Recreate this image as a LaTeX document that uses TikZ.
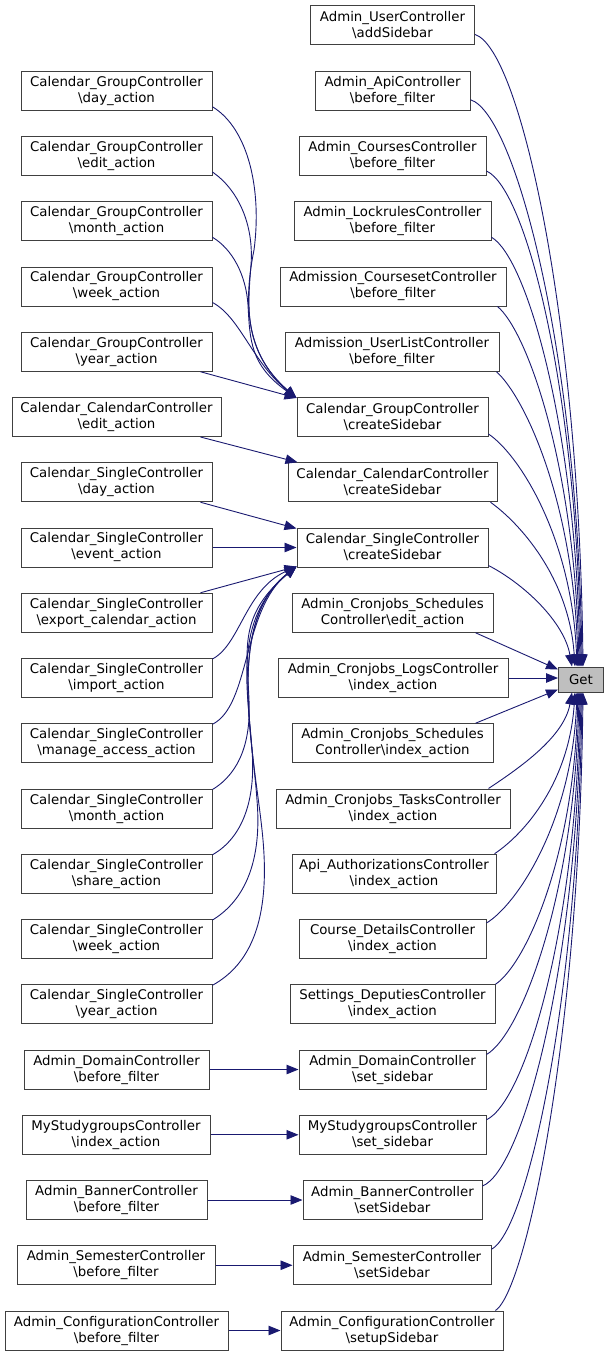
\documentclass[tikz,border=0pt]{standalone}
\usepackage{fontspec}
\setmainfont{DejaVu Sans}
\usetikzlibrary{arrows.meta,calc}
\definecolor{edgecol}{HTML}{191970}
\definecolor{boxline}{HTML}{404040}
\definecolor{getfill}{HTML}{BFBFBF}
\begin{document}
\begin{tikzpicture}[x=1pt,y=-1pt,
  box/.style={draw=boxline, line width=1pt, fill=white, minimum height=39pt, inner sep=0pt, align=center, font=\fontsize{13.33}{16}\selectfont},
  edge/.style={draw=edgecol, line width=0.9pt, -{Triangle[length=12pt,width=9.5pt]}, edgecol}]
\useasboundingbox (0,0) rectangle (609,1359);
% Get
\node[box, fill=getfill, minimum width=45pt, minimum height=25pt] (get) at (581,679.5) {Get};
% right column
\node[box, minimum width=164pt] (r0) at (392.5,25.5) {Admin\_UserController\\\textbackslash addSidebar};
\node[box, minimum width=155pt] (r1) at (392.5,90.75) {Admin\_ApiController\\\textbackslash before\_filter};
\node[box, minimum width=187pt] (r2) at (392.5,156) {Admin\_CoursesController\\\textbackslash before\_filter};
\node[box, minimum width=197pt] (r3) at (392.5,221.25) {Admin\_LockrulesController\\\textbackslash before\_filter};
\node[box, minimum width=226pt] (r4) at (393,286.5) {Admission\_CoursesetController\\\textbackslash before\_filter};
\node[box, minimum width=214pt] (r5) at (392,351.75) {Admission\_UserListController\\\textbackslash before\_filter};
\node[box, minimum width=191pt] (r6) at (392.5,417) {Calendar\_GroupController\\\textbackslash createSidebar};
\node[box, minimum width=209pt] (r7) at (392.5,482.25) {Calendar\_CalendarController\\\textbackslash createSidebar};
\node[box, minimum width=191pt] (r8) at (392.5,547.5) {Calendar\_SingleController\\\textbackslash createSidebar};
\node[box, minimum width=201pt] (r9) at (392.5,612.75) {Admin\_Cronjobs\_Schedules\\Controller\textbackslash edit\_action};
\node[box, minimum width=230pt] (r10) at (393,678) {Admin\_Cronjobs\_LogsController\\\textbackslash index\_action};
\node[box, minimum width=201pt] (r11) at (392.5,743.25) {Admin\_Cronjobs\_Schedules\\Controller\textbackslash index\_action};
\node[box, minimum width=234pt] (r12) at (393,808.5) {Admin\_Cronjobs\_TasksController\\\textbackslash index\_action};
\node[box, minimum width=204pt] (r13) at (394,873.75) {Api\_AuthorizationsController\\\textbackslash index\_action};
\node[box, minimum width=187pt] (r14) at (392.5,939) {Course\_DetailsController\\\textbackslash index\_action};
\node[box, minimum width=205pt] (r15) at (392.5,1004.25) {Settings\_DeputiesController\\\textbackslash index\_action};
\node[box, minimum width=187pt] (r16) at (392.5,1069.5) {Admin\_DomainController\\\textbackslash set\_sidebar};
\node[box, minimum width=187pt] (r17) at (392.5,1134.75) {MyStudygroupsController\\\textbackslash set\_sidebar};
\node[box, minimum width=179pt] (r18) at (392.5,1200) {Admin\_BannerController\\\textbackslash setSidebar};
\node[box, minimum width=198pt] (r19) at (392,1265.25) {Admin\_SemesterController\\\textbackslash setSidebar};
\node[box, minimum width=222pt] (r20) at (392,1330.5) {Admin\_ConfigurationController\\\textbackslash setupSidebar};
% left column
\node[box, minimum width=191pt] (l1) at (116.5,90.75) {Calendar\_GroupController\\\textbackslash day\_action};
\node[box, minimum width=191pt] (l2) at (116.5,156) {Calendar\_GroupController\\\textbackslash edit\_action};
\node[box, minimum width=191pt] (l3) at (116.5,221.25) {Calendar\_GroupController\\\textbackslash month\_action};
\node[box, minimum width=191pt] (l4) at (116.5,286.5) {Calendar\_GroupController\\\textbackslash week\_action};
\node[box, minimum width=191pt] (l5) at (116.5,351.75) {Calendar\_GroupController\\\textbackslash year\_action};
\node[box, minimum width=209pt] (l6) at (116.5,417) {Calendar\_CalendarController\\\textbackslash edit\_action};
\node[box, minimum width=191pt] (l7) at (116.5,482.25) {Calendar\_SingleController\\\textbackslash day\_action};
\node[box, minimum width=191pt] (l8) at (116.5,547.5) {Calendar\_SingleController\\\textbackslash event\_action};
\node[box, minimum width=191pt] (l9) at (116.5,612.75) {Calendar\_SingleController\\\textbackslash export\_calendar\_action};
\node[box, minimum width=191pt] (l10) at (116.5,678) {Calendar\_SingleController\\\textbackslash import\_action};
\node[box, minimum width=191pt] (l11) at (116.5,743.25) {Calendar\_SingleController\\\textbackslash manage\_access\_action};
\node[box, minimum width=191pt] (l12) at (116.5,808.5) {Calendar\_SingleController\\\textbackslash month\_action};
\node[box, minimum width=191pt] (l13) at (116.5,873.75) {Calendar\_SingleController\\\textbackslash share\_action};
\node[box, minimum width=191pt] (l14) at (116.5,939) {Calendar\_SingleController\\\textbackslash week\_action};
\node[box, minimum width=191pt] (l15) at (116.5,1004.25) {Calendar\_SingleController\\\textbackslash year\_action};
\node[box, minimum width=185pt] (l16) at (116.5,1069.5) {Admin\_DomainController\\\textbackslash before\_filter};
\node[box, minimum width=188pt] (l17) at (116,1134.75) {MyStudygroupsController\\\textbackslash index\_action};
\node[box, minimum width=181pt] (l18) at (116.5,1200) {Admin\_BannerController\\\textbackslash before\_filter};
\node[box, minimum width=198pt] (l19) at (116,1265.25) {Admin\_SemesterController\\\textbackslash before\_filter};
\node[box, minimum width=223pt] (l20) at (116.5,1330.5) {Admin\_ConfigurationController\\\textbackslash before\_filter};
% edges to Get (top)
\draw[edge] ($(r0.east)+(0,9)$) .. controls +(45,14) and +(-4,-350) .. ($(get.north)+(2,0)$);
\draw[edge] ($(r1.east)+(0,9)$) .. controls +(45,14) and +(-4,-312) .. ($(get.north)+(1,0)$);
\draw[edge] ($(r2.east)+(0,15)$) .. controls +(40,18) and +(-4,-276) .. ($(get.north)+(0,0)$);
\draw[edge] ($(r3.east)+(0,16)$) .. controls +(35,20) and +(-4,-240) .. ($(get.north)+(-1,0)$);
\draw[edge] ($(r4.south east)+(-9,0)$) .. controls +(30,25) and +(-4,-200) .. ($(get.north)+(-2,0)$);
\draw[edge] ($(r5.south east)+(-3,0)$) .. controls +(28,25) and +(-4,-165) .. ($(get.north)+(-3,0)$);
\draw[edge] ($(r6.south east)+(0,-3)$) .. controls +(30,20) and +(-5,-130) .. ($(get.north)+(-4,0)$);
\draw[edge] ($(r7.south east)+(-7,0)$) .. controls +(28,20) and +(-6,-90) .. ($(get.north)+(-6,0)$);
\draw[edge] ($(r8.south east)+(0,-2)$) .. controls +(35,18) and +(-8,-45) .. ($(get.north)+(-9,0)$);
\draw[edge] ($(r9.south east)+(-18,0)$) -- ($(get.north west)+(0,3)$);
\draw[edge] (r10.east) -- (r10.east -| get.west);
\draw[edge] ($(r11.north east)+(-18,0)$) -- ($(get.south west)+(0,-3)$);
% edges to Get (bottom)
\draw[edge] ($(r12.north east)+(-22,0)$) .. controls +(30,-20) and +(-8,45) .. ($(get.south)+(-9,0)$);
\draw[edge] ($(r13.north east)+(-2,0)$) .. controls +(30,-20) and +(-6,90) .. ($(get.south)+(-6,0)$);
\draw[edge] ($(r14.east)+(0,-16)$) .. controls +(30,-18) and +(-5,130) .. ($(get.south)+(-4,0)$);
\draw[edge] (r15.north east) .. controls +(30,-20) and +(-4,165) .. ($(get.south)+(-3,0)$);
\draw[edge] ($(r16.east)+(0,-15)$) .. controls +(35,-20) and +(-4,200) .. ($(get.south)+(-2,0)$);
\draw[edge] ($(r17.east)+(0,-15)$) .. controls +(38,-18) and +(-4,240) .. ($(get.south)+(-1,0)$);
\draw[edge] ($(r18.east)+(0,-14)$) .. controls +(40,-16) and +(-4,276) .. ($(get.south)+(0,0)$);
\draw[edge] ($(r19.north east)+(0,4)$) .. controls +(35,-18) and +(-4,312) .. ($(get.south)+(1,0)$);
\draw[edge] ($(r20.north east)+(-8,0)$) .. controls +(30,-20) and +(-4,350) .. ($(get.south)+(2,0)$);
% group controller edges
\draw[edge] ($(l1.south east)+(0,-4)$) .. controls +(36,22) and (262,190) .. (254,250) .. controls (246,290) and (240,350) .. ($(r6.north west)+(0,1)$);
\draw[edge] ($(l2.south east)+(0,-4)$) .. controls +(26,18) and (254,225) .. (251,265) .. controls (248,305) and (242,350) .. ($(r6.north west)+(0,1)$);
\draw[edge] ($(l3.south east)+(0,-4)$) .. controls +(20,12) and (246,275) .. (248,305) .. controls (250,340) and (250,365) .. ($(r6.north west)+(0,1)$);
\draw[edge] ($(l4.south east)+(0,-4)$) .. controls +(28,15) and (252,362) .. ($(r6.north west)+(0,1)$);
\draw[edge] ($(l5.south east)+(-12,0)$) -- ($(r6.north west)+(0,1)$);
\draw[edge] ($(l6.south east)+(-21,0)$) -- ($(r7.north west)+(10,0)$);
% single controller edges
\draw[edge] ($(l7.south east)+(-12,0)$) -- ($(r8.north west)+(0,1)$);
\draw[edge] (l8.east) -- (r8.west);
\draw[edge] ($(l9.north east)+(-12,0)$) -- ($(r8.south west)+(0,-1)$);
\draw[edge] ($(l10.north east)+(0,1)$) .. controls +(28,-15) and (245,590) .. ($(r8.south west)+(0,-1)$);
\draw[edge] ($(l11.north east)+(0,1)$) .. controls +(38,-19) and (242,610) .. ($(r8.south west)+(0,-1)$);
\draw[edge] ($(l12.north east)+(0,1)$) .. controls +(28,-17) and (251,740) .. (249,700) .. controls (247,650) and (238,615) .. ($(r8.south west)+(0,-1)$);
\draw[edge] ($(l13.north east)+(0,1)$) .. controls +(30,-17) and (256,800) .. (252,750) .. controls (248,690) and (232,620) .. ($(r8.south west)+(0,-1)$);
\draw[edge] ($(l14.north east)+(0,1)$) .. controls +(33,-20) and (262,860) .. (257,800) .. controls (252,730) and (228,620) .. ($(r8.south west)+(0,-1)$);
\draw[edge] ($(l15.north east)+(0,1)$) .. controls +(38,-21) and (270,920) .. (263,840) .. controls (256,760) and (222,625) .. ($(r8.south west)+(0,-1)$);
% horizontal edges
\draw[edge] (l16.east) -- (r16.west);
\draw[edge] (l17.east) -- (r17.west);
\draw[edge] (l18.east) -- (r18.west);
\draw[edge] (l19.east) -- (r19.west);
\draw[edge] (l20.east) -- (r20.west);
\end{tikzpicture}
\end{document}
